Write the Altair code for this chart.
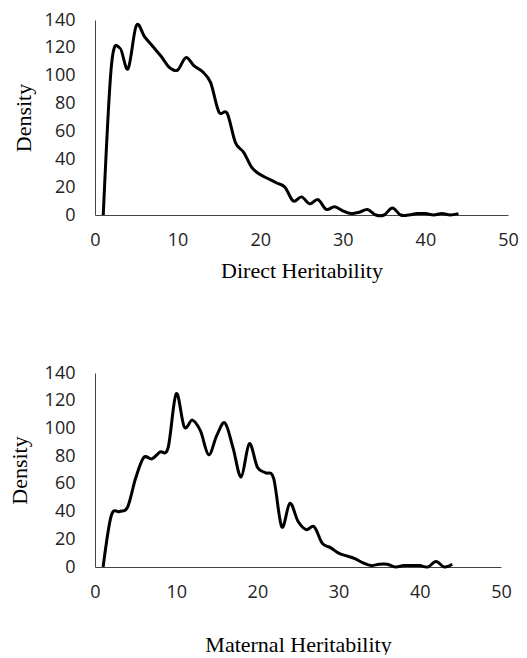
import altair as alt
import pandas as pd

# Direct heritability density (x = 1..44)
direct_x = list(range(1, 45))
direct_y = [0, 108, 120, 105, 136, 128, 121, 114, 106, 104,
            113, 107, 103, 95, 74, 73, 52, 45, 34, 29,
            26, 23, 20, 10, 13, 8, 11, 4, 6, 3,
            1, 2, 4, 0, 0, 5, 0, 0, 1, 1,
            0, 1, 0, 1]

# Maternal heritability density (x = 1..44)
maternal_x = list(range(1, 45))
maternal_y = [0, 37, 40, 43, 64, 79, 78, 83, 86, 125,
              101, 106, 98, 81, 95, 104, 86, 65, 89, 72,
              68, 64, 29, 46, 33, 27, 29, 17, 14, 10,
              8, 6, 3, 1, 2, 2, 0, 1, 1, 1,
              0, 4, 0, 2]

x_ticks = [0, 10, 20, 30, 40, 50]
y_ticks = [0, 20, 40, 60, 80, 100, 120, 140]

df1 = pd.DataFrame({"h": direct_x, "d": direct_y})
df2 = pd.DataFrame({"h": maternal_x, "d": maternal_y})

LABEL_FONT = "Open Sans"
TITLE_FONT = "Liberation Serif"


def panel(df, xtitle, width, height, xtitle_pad, ytitle_pad):
    return alt.Chart(df).mark_line(
        color="black", strokeWidth=3, interpolate="cardinal"
    ).encode(
        x=alt.X("h:Q", title=xtitle,
                scale=alt.Scale(domain=[0, 50], nice=False, zero=False),
                axis=alt.Axis(values=x_ticks, ticks=False, grid=False,
                              labelFlush=False, labelOverlap=False,
                              domainColor="#444444", domainWidth=1,
                              labelFont=LABEL_FONT, labelFontSize=18,
                              labelColor="#222222", labelPadding=16,
                              titleFont=TITLE_FONT, titleFontSize=22,
                              titleFontWeight="normal", titleColor="black",
                              titlePadding=xtitle_pad)),
        y=alt.Y("d:Q", title="Density",
                scale=alt.Scale(domain=[0, 140], nice=False),
                axis=alt.Axis(values=y_ticks, ticks=False, grid=False,
                              labelFlush=False, labelOverlap=False,
                              domainColor="#444444", domainWidth=1,
                              labelFont=LABEL_FONT, labelFontSize=18,
                              labelColor="#222222", labelPadding=20,
                              titleFont=TITLE_FONT, titleFontSize=22,
                              titleFontWeight="normal", titleColor="black",
                              titlePadding=ytitle_pad)),
    ).properties(width=width, height=height)


top = panel(df1, "Direct Heritability", 413, 195, 11, 9)
bottom = panel(df2, "Maternal Heritability", 406, 194, 33, 13)

chart = alt.concat(top, bottom, columns=1, align="none", spacing=83).properties(
    padding={"left": 0, "top": 3, "right": 0, "bottom": 0}
).configure_view(stroke=None)

chart.save("out.html", embed_options={"renderer": "svg", "actions": False})
